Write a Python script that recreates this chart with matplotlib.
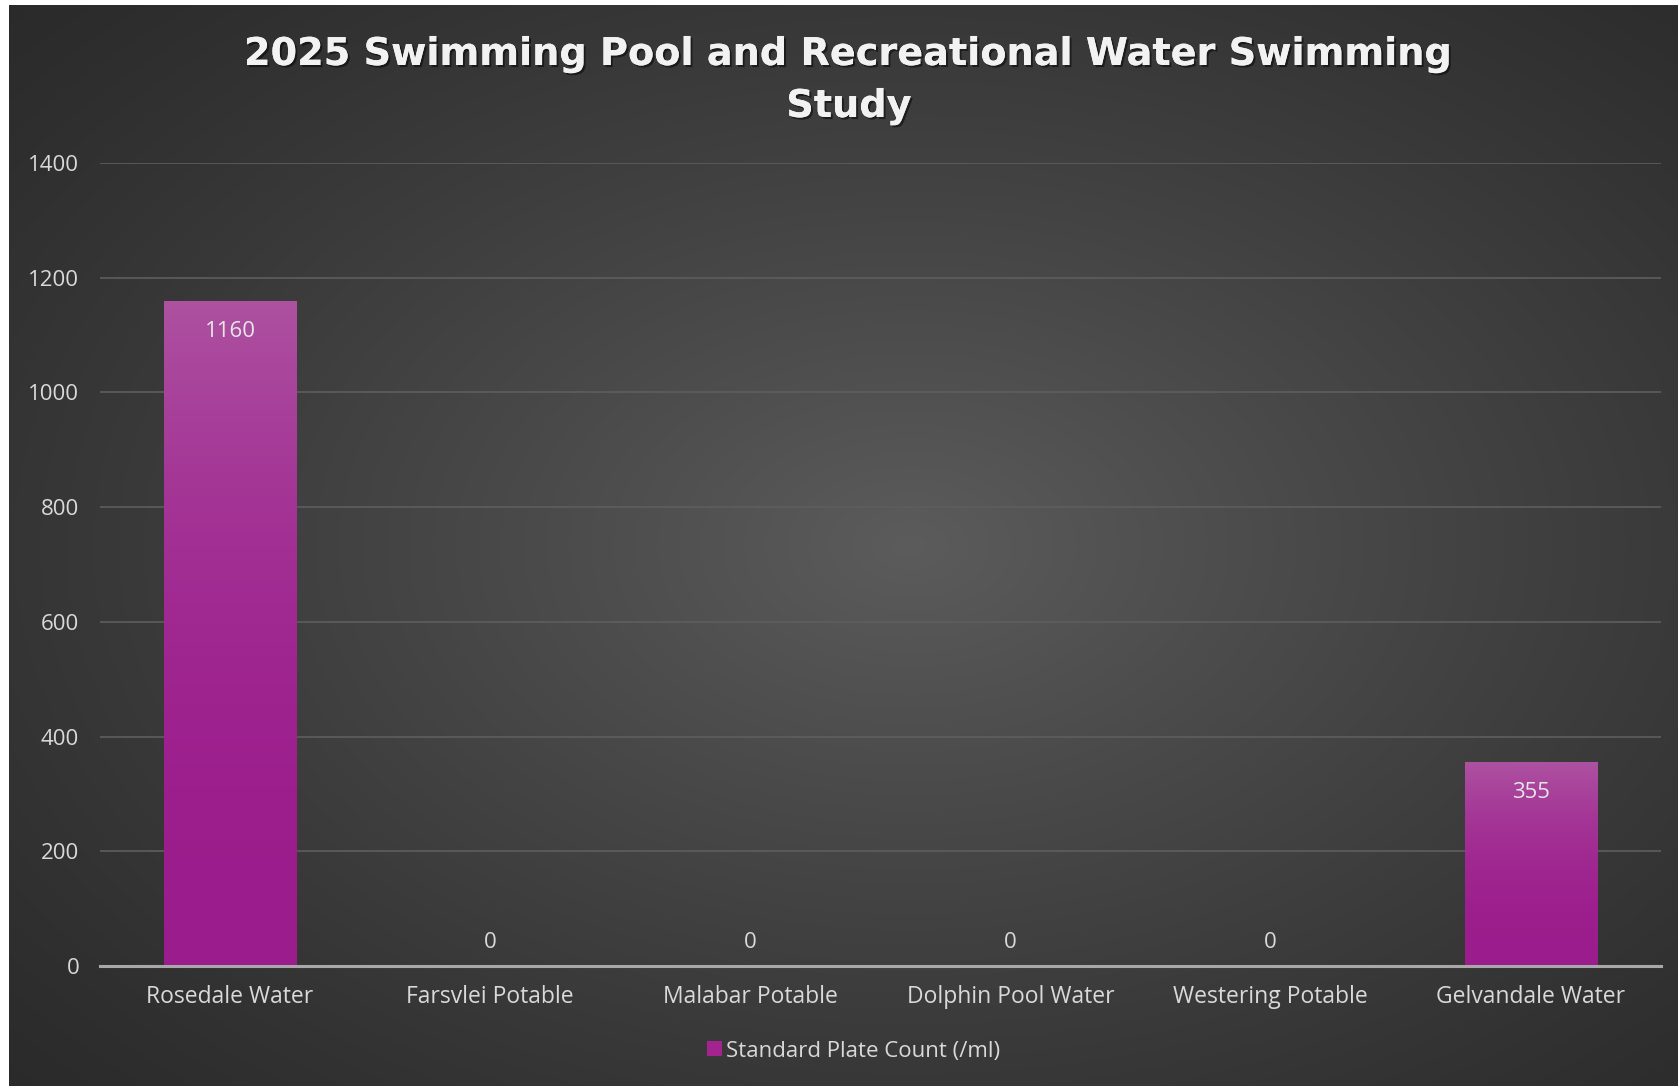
import numpy as np
import matplotlib.pyplot as plt
import matplotlib.patheffects as pe

sites = ['Rosedale Water', 'Farsvlei Potable', 'Malabar Potable',
         'Dolphin Pool Water', 'Westering Potable', 'Gelvandale Water']
plate_count = [1160, 0, 0, 0, 0, 355]
yticks = [0, 200, 400, 600, 800, 1000, 1200, 1400]

W, H = 1678, 1086
fig = plt.figure(figsize=(W / 100, H / 100), dpi=100, facecolor='white')

# radial grey background
bg = fig.add_axes([9 / W, 0, 1 - 9 / W, 1 - 5 / H])
bg.set_axis_off()
yy, xx = np.mgrid[0:1:400j, 0:1:600j]
r = np.sqrt(((xx - 0.54) / 0.75) ** 2 + ((yy - 0.50) / 0.75) ** 2)
shade = np.clip(1 - r, 0, 1) ** 1.2
lo, hi = np.array([0.165, 0.165, 0.165]), np.array([0.36, 0.36, 0.36])
img = lo + (hi - lo) * shade[..., None]
bg.imshow(img, extent=[0, 1, 0, 1], aspect='auto', origin='lower')
bg.set_xlim(0, 1)
bg.set_ylim(0, 1)

ax = fig.add_axes([100 / W, 1 - 966 / H, 1561 / W, (966 - 163) / H])
ax.patch.set_alpha(0)
x = np.arange(len(sites))
bars = ax.bar(x, plate_count, width=0.51, color='#a3248f', zorder=3,
              label='Standard Plate Count (/ml)')

# vertical gradient on each bar, lighter near the top
grad = np.linspace(0, 1, 256)[:, None] ** 2.2
top_c = np.array([0.68, 0.32, 0.63])
bot_c = np.array([0.61, 0.11, 0.55])
gimg = bot_c + (top_c - bot_c) * grad[..., None]
for b in bars:
    if b.get_height() <= 0:
        continue
    x0, w, h = b.get_x(), b.get_width(), b.get_height()
    im = ax.imshow(gimg, extent=[x0, x0 + w, 0, h], origin='lower',
                   aspect='auto', zorder=4)
    im.set_clip_path(b)

ax.set_xlim(-0.5, len(sites) - 0.5)
ax.set_ylim(0, 1400)
ax.set_yticks(yticks)
ax.grid(axis='y', color='#5e5e5e', linewidth=1.2, zorder=0)
ax.set_axisbelow(True)
for s in ['top', 'right', 'left']:
    ax.spines[s].set_visible(False)
ax.spines['bottom'].set_color('#a8a8a8')
ax.spines['bottom'].set_linewidth(2.2)
ax.spines['bottom'].set_zorder(5)
ax.tick_params(length=0, colors='#d9d9d9', labelsize=16)
ax.tick_params(axis='y', pad=15)
ax.tick_params(axis='x', pad=14)
ax.set_xticks(x)
ax.set_xticklabels(sites, fontsize=16.5)
for t in ax.get_yticklabels():
    t.set_fontfamily('Open Sans')
for t in ax.get_xticklabels():
    t.set_fontfamily('Open Sans')

for xi, v in zip(x, plate_count):
    if v > 0:
        ax.annotate(str(v), (xi, v), xytext=(0, -22), textcoords='offset points',
                    ha='center', va='center', color='#e6e6e6', fontsize=16,
                    family='Open Sans', zorder=6)
    else:
        ax.annotate(str(v), (xi, v), xytext=(0, 17), textcoords='offset points',
                    ha='center', va='center', color='#d9d9d9', fontsize=16,
                    family='Open Sans', zorder=6)

title_fx = [pe.withSimplePatchShadow(offset=(1.5, -1.5), shadow_rgbFace='black', alpha=0.5),
            pe.Normal()]
fig.text(849 / W, 1 - 55 / H, '2025 Swimming Pool and Recreational Water Swimming',
         ha='center', va='center', fontsize=27.5, fontweight='bold', color='#f2f2f2',
         family='DejaVu Sans', path_effects=title_fx)
fig.text(849 / W, 1 - 107 / H, 'Study',
         ha='center', va='center', fontsize=27.5, fontweight='bold', color='#f2f2f2',
         family='DejaVu Sans', path_effects=title_fx)

leg = fig.legend(handles=[bars], labels=['Standard Plate Count (/ml)'],
                 loc='center', bbox_to_anchor=(854 / W, 1 - 1051 / H),
                 frameon=False, handlelength=0.65, handleheight=0.65,
                 handletextpad=0.2, prop={'family': 'Open Sans', 'size': 16})
for t in leg.get_texts():
    t.set_color('#d9d9d9')

fig.savefig('out.png', dpi=100, facecolor='white')
